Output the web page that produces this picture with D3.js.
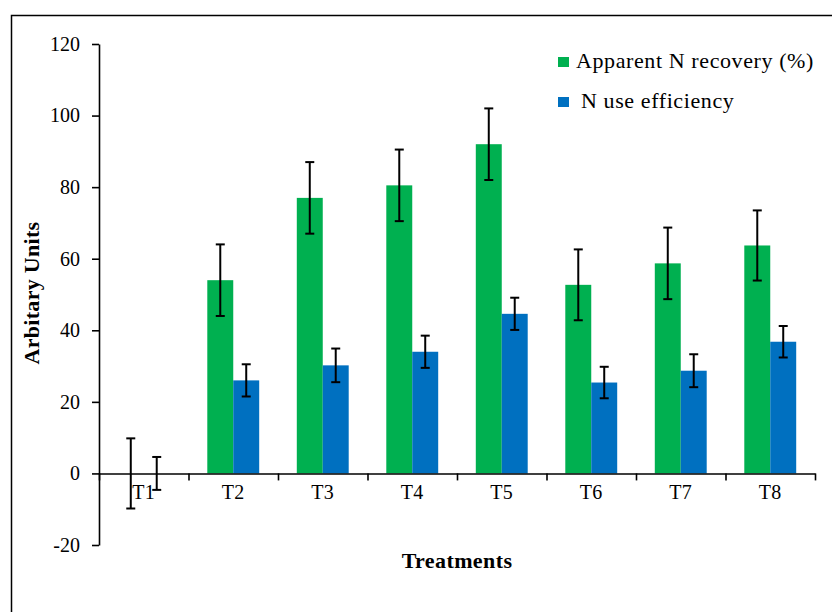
<!DOCTYPE html>
<html>
<head>
<meta charset="utf-8">
<script src="https://cdn.jsdelivr.net/npm/d3@7"></script>
<style>
  body { margin: 0; background: #fff; }
  svg text { font-family: "Liberation Serif", "DejaVu Serif", serif; fill: #000; }
</style>
</head>
<body>
<svg id="chart" width="832" height="612"></svg>
<script>
// data
const categories = ["T1", "T2", "T3", "T4", "T5", "T6", "T7", "T8"];
const recovery    = [0, 54, 77, 80.5, 92, 52.7, 58.7, 63.7];
const recoveryErr = [9.8, 10, 10, 10, 10, 9.9, 10, 9.8];
const nue         = [0, 26, 30.2, 34, 44.6, 25.4, 28.7, 36.8];
const nueErr      = [4.6, 4.5, 4.7, 4.5, 4.5, 4.4, 4.6, 4.4];
const yTicks = [-20, 0, 20, 40, 60, 80, 100, 120];
const seriesNames = ["Apparent N recovery (%)", "N use efficiency"];
const colors = ["#00B050", "#0070C0"];

const margin = {top: 44, right: 17, bottom: 67, left: 99};
const width = 832 - margin.left - margin.right;
const height = 612 - margin.top - margin.bottom;

const svg = d3.select("#chart");

// outer frame (runs off the right and bottom of the picture)
svg.append("rect")
  .attr("x", 11.5).attr("y", 15.5)
  .attr("width", 840).attr("height", 640)
  .attr("fill", "none").attr("stroke", "#000").attr("stroke-width", 1.5);

const g = svg.append("g")
  .attr("transform", "translate(" + margin.left + "," + margin.top + ")");

const y = d3.scaleLinear().domain([-20, 120]).range([501, 0]);

const x0 = d3.scaleBand()
  .domain(categories)
  .range([0, width])
  .paddingInner(0.42)
  .paddingOuter(0.21);
const x1 = d3.scaleBand()
  .domain([0, 1])
  .range([0, x0.bandwidth()]);

const rows = categories.map((c, i) => ({
  cat: c,
  vals: [
    {s: 0, v: recovery[i], e: recoveryErr[i]},
    {s: 1, v: nue[i], e: nueErr[i]}
  ]
}));

// bars
const grp = g.selectAll(".cat")
  .data(rows)
  .enter()
  .append("g")
  .attr("transform", d => "translate(" + x0(d.cat) + ",0)");

grp.selectAll("rect")
  .data(d => d.vals)
  .enter()
  .append("rect")
  .attr("x", d => x1(d.s))
  .attr("y", d => y(Math.max(0, d.v)))
  .attr("width", x1.bandwidth())
  .attr("height", d => Math.abs(y(d.v) - y(0)))
  .attr("fill", d => colors[d.s]);

// y axis
const yAxis = g.append("g")
  .call(d3.axisLeft(y).tickValues(yTicks).tickSize(7).tickSizeOuter(0).tickPadding(12));
yAxis.select(".domain").attr("stroke-width", 1.6);
yAxis.selectAll(".tick line").attr("stroke-width", 1.6);
yAxis.selectAll("text")
  .style("font-size", "20px")
  .text(d => d < 0 ? "-" + Math.abs(d) : d);

// x axis: ticks on the boundaries between groups
const xb = d3.scaleLinear().domain([0, categories.length]).range([0, width]);
const xAxis = g.append("g")
  .attr("transform", "translate(0," + y(0) + ")")
  .call(d3.axisBottom(xb).tickValues(d3.range(categories.length + 1)).tickSize(7).tickSizeOuter(0).tickFormat(""));
xAxis.select(".domain").attr("stroke-width", 1.6);
xAxis.selectAll(".tick line").attr("stroke-width", 1.6);

const xLab = g.append("g")
  .attr("transform", "translate(0," + y(0) + ")")
  .call(d3.axisBottom(x0).tickSize(0).tickPadding(11));
xLab.select(".domain").remove();
xLab.selectAll("text").style("font-size", "20px").style("letter-spacing", "0.3px");

// error bars
const errs = grp.selectAll(".err")
  .data(d => d.vals)
  .enter()
  .append("g")
  .attr("stroke", "#000")
  .attr("stroke-width", 2);
const cx = d => x1(d.s) + x1.bandwidth() / 2;
errs.append("line")
  .attr("x1", cx).attr("x2", cx)
  .attr("y1", d => y(d.v + d.e)).attr("y2", d => y(d.v - d.e));
errs.append("line")
  .attr("x1", d => cx(d) - 4.5).attr("x2", d => cx(d) + 4.5)
  .attr("y1", d => y(d.v + d.e)).attr("y2", d => y(d.v + d.e));
errs.append("line")
  .attr("x1", d => cx(d) - 4.5).attr("x2", d => cx(d) + 4.5)
  .attr("y1", d => y(d.v - d.e)).attr("y2", d => y(d.v - d.e));

// axis titles
svg.append("text")
  .attr("transform", "translate(39,293) rotate(-90)")
  .attr("text-anchor", "middle")
  .style("font-size", "22px")
  .style("font-weight", "bold")
  .style("letter-spacing", "0.3px")
  .text("Arbitary Units");

svg.append("text")
  .attr("x", 457).attr("y", 568)
  .attr("text-anchor", "middle")
  .style("font-size", "22px")
  .style("font-weight", "bold")
  .style("letter-spacing", "0.4px")
  .text("Treatments");

// legend
const leg = svg.append("g");
seriesNames.forEach((name, i) => {
  leg.append("rect")
    .attr("x", 558).attr("y", 57 + i * 40)
    .attr("width", 11).attr("height", 10)
    .attr("fill", colors[i]);
  leg.append("text")
    .attr("x", i === 0 ? 576 : 581).attr("y", 68 + i * 40)
    .style("font-size", "22px")
    .style("letter-spacing", "0.6px")
    .text(name);
});
</script>
</body>
</html>
